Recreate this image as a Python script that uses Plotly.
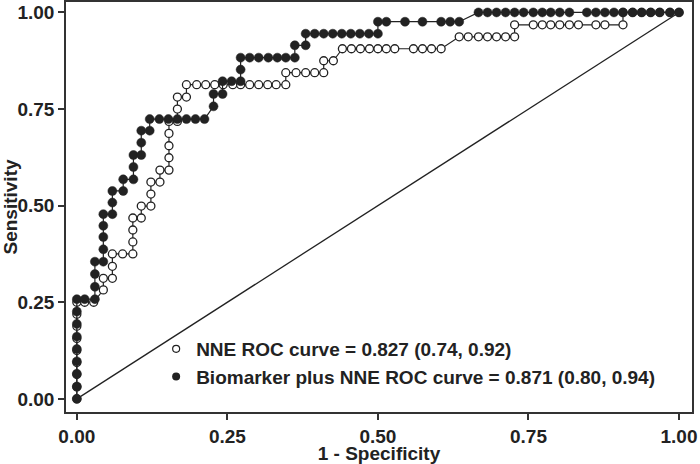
import plotly.graph_objects as go

# ---- data ----
nne_fpr = [0, 0, 0, 0, 0, 0, 0, 0, 0,
           0.013, 0.028,
           0.044, 0.044,
           0.059, 0.059, 0.059,
           0.076, 0.093, 0.093, 0.093, 0.093,
           0.107, 0.107,
           0.123, 0.123, 0.123,
           0.138, 0.138,
           0.153, 0.153, 0.153, 0.153, 0.153,
           0.167, 0.167, 0.167,
           0.182, 0.182,
           0.199, 0.214, 0.229, 0.243, 0.259, 0.272, 0.287, 0.302, 0.317, 0.331, 0.347,
           0.347, 0.364, 0.380, 0.395, 0.410,
           0.410, 0.426,
           0.441, 0.456, 0.471, 0.486, 0.500, 0.514, 0.528, 0.559, 0.574, 0.589, 0.605,
           0.635, 0.650, 0.667, 0.682, 0.697, 0.712, 0.727,
           0.727, 0.758, 0.773, 0.787, 0.802, 0.818, 0.833, 0.862, 0.877, 0.907,
           0.907, 0.923, 0.938, 0.953, 0.968, 0.985, 1.0]
nne_tpr = [0, 0.031, 0.063, 0.094, 0.125, 0.156, 0.188, 0.219, 0.25,
           0.25, 0.25,
           0.282, 0.312,
           0.312, 0.343, 0.375,
           0.375, 0.375, 0.406, 0.437, 0.468,
           0.468, 0.499,
           0.499, 0.530, 0.561,
           0.561, 0.592,
           0.592, 0.624, 0.655, 0.687, 0.718,
           0.718, 0.750, 0.781,
           0.781, 0.813,
           0.813, 0.813, 0.813, 0.813, 0.813, 0.813, 0.813, 0.813, 0.813, 0.813, 0.813,
           0.844, 0.844, 0.844, 0.844, 0.844,
           0.875, 0.875,
           0.906, 0.906, 0.906, 0.906, 0.906, 0.906, 0.906, 0.906, 0.906, 0.906, 0.906,
           0.937, 0.937, 0.937, 0.937, 0.937, 0.937, 0.937,
           0.968, 0.968, 0.968, 0.968, 0.968, 0.968, 0.968, 0.968, 0.968, 0.968,
           1.0, 1.0, 1.0, 1.0, 1.0, 1.0, 1.0]

bio_fpr = [0, 0, 0, 0, 0, 0, 0, 0, 0,
           0.013, 0.030,
           0.030, 0.030, 0.030,
           0.044, 0.044, 0.044, 0.044, 0.044,
           0.059, 0.059, 0.059,
           0.077, 0.077,
           0.094, 0.094, 0.094,
           0.107, 0.107, 0.107,
           0.121, 0.121,
           0.137, 0.152, 0.167, 0.182, 0.197, 0.212,
           0.227, 0.227,
           0.242, 0.242,
           0.257, 0.272, 0.272, 0.272,
           0.287, 0.302, 0.318, 0.333, 0.347, 0.362,
           0.362, 0.380, 0.380,
           0.395, 0.410, 0.425, 0.440, 0.455, 0.470, 0.485, 0.500,
           0.500, 0.514, 0.545, 0.574, 0.605, 0.620, 0.635,
           0.667, 0.682, 0.697, 0.712, 0.727, 0.742, 0.758, 0.773, 0.787, 0.802, 0.818,
           0.847, 0.862, 0.877, 0.892, 0.907, 0.923, 0.938, 0.953, 0.968, 0.985, 1.0]
bio_tpr = [0, 0.032, 0.065, 0.097, 0.129, 0.161, 0.194, 0.226, 0.258,
           0.258, 0.258,
           0.290, 0.323, 0.355,
           0.355, 0.387, 0.419, 0.448, 0.478,
           0.478, 0.508, 0.538,
           0.538, 0.568,
           0.568, 0.600, 0.631,
           0.631, 0.663, 0.694,
           0.694, 0.724,
           0.724, 0.724, 0.724, 0.724, 0.724, 0.724,
           0.757, 0.789,
           0.789, 0.822,
           0.822, 0.822, 0.852, 0.883,
           0.883, 0.883, 0.883, 0.883, 0.883, 0.883,
           0.915, 0.915, 0.945,
           0.945, 0.945, 0.945, 0.945, 0.945, 0.945, 0.945, 0.945,
           0.976, 0.976, 0.976, 0.976, 0.976, 0.976, 0.976,
           1.0, 1.0, 1.0, 1.0, 1.0, 1.0, 1.0, 1.0, 1.0, 1.0, 1.0,
           1.0, 1.0, 1.0, 1.0, 1.0, 1.0, 1.0, 1.0, 1.0, 1.0, 1.0]

ref_x = [0, 1]
ref_y = [0, 1]

tick_vals = [0, 0.25, 0.5, 0.75, 1.0]
tick_text = ["0.00", "0.25", "0.50", "0.75", "1.00"]
legend_labels = ["NNE ROC curve = 0.827 (0.74, 0.92)",
                 "Biomarker plus NNE ROC curve = 0.871 (0.80, 0.94)"]
x_title = "1 - Specificity"
y_title = "Sensitivity"

INK = "#222222"
FONT = "Liberation Sans, Arial, sans-serif"

fig = go.Figure()

fig.add_trace(go.Scatter(x=ref_x, y=ref_y, mode="lines",
                         line=dict(color=INK, width=1.3),
                         showlegend=False, hoverinfo="skip"))

fig.add_trace(go.Scatter(x=nne_fpr, y=nne_tpr, mode="lines+markers",
                         line=dict(color=INK, width=1.2),
                         marker=dict(symbol="circle", size=8, color="white",
                                     line=dict(color=INK, width=1.3)),
                         showlegend=False))

fig.add_trace(go.Scatter(x=bio_fpr, y=bio_tpr, mode="lines+markers",
                         line=dict(color=INK, width=1.2),
                         marker=dict(symbol="circle", size=9, color=INK,
                                     line=dict(color=INK, width=0.5)),
                         showlegend=False))

# legend entries (marker only)
fig.add_trace(go.Scatter(x=[None], y=[None], mode="markers", name=legend_labels[0],
                         marker=dict(symbol="circle", size=7, color="white",
                                     line=dict(color=INK, width=1.2))))
fig.add_trace(go.Scatter(x=[None], y=[None], mode="markers", name=legend_labels[1],
                         marker=dict(symbol="circle", size=8, color=INK)))

axis_common = dict(
    showline=True, mirror=True, linecolor="#333333", linewidth=1.6,
    showgrid=False, zeroline=False, automargin=False,
    ticks="outside", ticklen=6, tickwidth=1.5, tickcolor="#333333",
    tickfont=dict(family=FONT, size=19, color=INK, weight="bold"),
)

fig.update_layout(
    width=700, height=464,
    margin=dict(l=66, r=8, t=2, b=52),
    paper_bgcolor="white", plot_bgcolor="white",
    font=dict(family=FONT, color=INK),
    xaxis=dict(range=[-0.018, 1.0216], tickvals=tick_vals, ticktext=tick_text,
               title=dict(text=x_title, standoff=0,
                          font=dict(family=FONT, size=19, color=INK, weight="bold")),
               **axis_common),
    yaxis=dict(range=[-0.034, 1.027], tickvals=tick_vals, ticktext=tick_text,
               title=dict(text=y_title, standoff=6,
                          font=dict(family=FONT, size=19, color=INK, weight="bold")),
               **axis_common),
    legend=dict(x=0.144, y=0.2, xanchor="left", yanchor="top",
                bgcolor="rgba(0,0,0,0)", borderwidth=0,
                itemwidth=30, tracegroupgap=0,
                font=dict(family=FONT, size=19, color=INK, weight="bold")),
    showlegend=True,
)

fig.write_html("out.html",
               config={"displayModeBar": False},
               post_script="document.body.style.margin='0px';document.body.style.padding='0px';")
